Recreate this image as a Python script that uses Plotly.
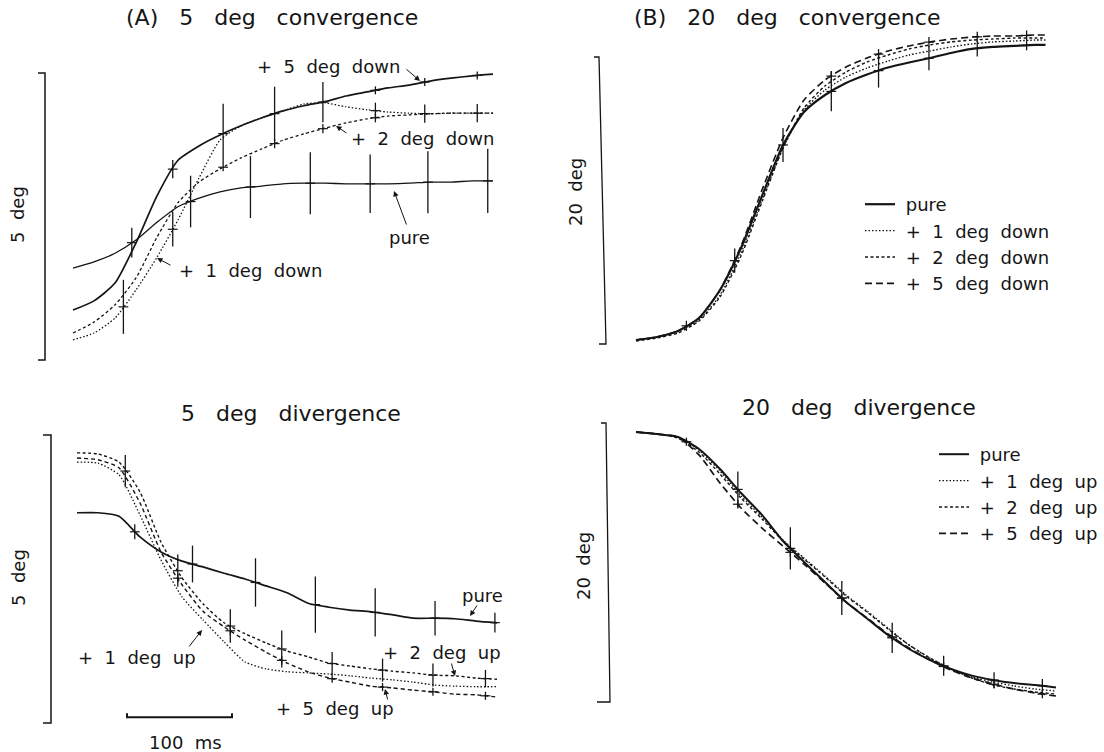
import numpy as np
import plotly.graph_objects as go

W, H = 1104, 752
FONT = "DejaVu Sans"
INK = "#151515"

# ---------------- data (time in ms, eye position in deg) ----------------
# (A) 5 deg convergence
T_A = [0, 20, 40, 60, 80, 100, 120, 140, 160, 180, 200, 220, 240, 260, 280, 300, 320, 340, 360, 380, 400]
A_PURE = [1.60, 1.71, 1.86, 2.09, 2.40, 2.67, 2.82, 2.93, 3.00, 3.03, 3.07, 3.08, 3.08, 3.07, 3.07, 3.07, 3.08, 3.10, 3.10, 3.12, 3.12]
A_DOWN1 = [0.35, 0.47, 0.73, 1.22, 1.79, 2.44, 3.17, 3.83, 4.08, 4.22, 4.34, 4.46, 4.48, 4.41, 4.36, 4.32, 4.30, 4.29, 4.30, 4.30, 4.30]
A_DOWN2 = [0.47, 0.66, 0.96, 1.43, 2.14, 2.74, 3.10, 3.33, 3.52, 3.68, 3.83, 3.94, 4.04, 4.13, 4.20, 4.25, 4.27, 4.29, 4.30, 4.30, 4.30]
A_DOWN5 = [0.87, 1.03, 1.34, 2.04, 2.86, 3.48, 3.73, 3.92, 4.08, 4.22, 4.34, 4.43, 4.50, 4.60, 4.67, 4.74, 4.79, 4.86, 4.91, 4.95, 4.98]
A_PURE_ET = [56, 112, 169, 226, 283, 338, 395]
A_PURE_EH = [0.26, 0.45, 0.54, 0.54, 0.51, 0.54, 0.56]
A_DOWN1_ET = [48, 95, 288, 335, 385]
A_DOWN1_EH = [0.47, 0.30, 0.14, 0.16, 0.16]
A_DOWN2_ET = [143, 192, 238, 288]
A_DOWN2_EH = [0.07, 0.08, 0.08, 0.08]
A_DOWN5_ET = [95, 143, 192, 238, 288, 335, 385]
A_DOWN5_EH = [0.16, 0.52, 0.47, 0.35, 0.07, 0.07, 0.07]

# (B) 20 deg convergence
T_B = [0, 20, 40, 60, 80, 100, 120, 140, 160, 180, 200, 220, 240, 260, 280, 300, 320, 340, 360, 380, 390]
B_PURE = [0.28, 0.49, 0.91, 1.81, 3.76, 6.69, 10.31, 13.87, 16.17, 17.35, 18.19, 18.78, 19.27, 19.62, 19.93, 20.28, 20.56, 20.70, 20.77, 20.84, 20.84]
B_DOWN1 = [0.28, 0.49, 0.91, 1.67, 3.41, 6.34, 10.03, 13.66, 16.31, 17.70, 18.61, 19.23, 19.72, 20.14, 20.42, 20.70, 20.91, 21.05, 21.11, 21.18, 21.18]
B_DOWN2 = [0.21, 0.42, 0.77, 1.60, 3.28, 6.13, 9.90, 13.66, 16.45, 17.98, 18.95, 19.65, 20.14, 20.56, 20.84, 21.05, 21.18, 21.25, 21.32, 21.32, 21.32]
B_DOWN5 = [0.28, 0.49, 0.91, 1.81, 3.76, 6.83, 10.73, 14.36, 17.00, 18.40, 19.30, 19.93, 20.42, 20.77, 21.05, 21.25, 21.39, 21.46, 21.46, 21.53, 21.53]
B_PURE_ET = [48, 94, 140, 186, 231, 279, 325, 372]
B_PURE_EH = [0.35, 0.84, 1.18, 1.39, 1.18, 0.84, 0.56, 0.35]
B_DOWN5_ET = [186, 231, 279, 325, 372]
B_DOWN5_EH = [0.35, 0.35, 0.35, 0.35, 0.35]

# 5 deg divergence
T_C = [0, 20, 40, 60, 80, 100, 120, 140, 160, 180, 200, 220, 240, 260, 280, 300, 320, 340, 360, 380, 400]
C_PURE = [3.65, 3.65, 3.59, 3.23, 2.97, 2.81, 2.71, 2.60, 2.50, 2.38, 2.26, 2.08, 2.01, 1.96, 1.93, 1.88, 1.82, 1.82, 1.81, 1.77, 1.74]
C_UP1 = [4.53, 4.51, 4.31, 3.61, 2.83, 2.19, 1.79, 1.41, 1.06, 0.94, 0.89, 0.87, 0.85, 0.82, 0.78, 0.75, 0.71, 0.66, 0.64, 0.63, 0.63]
C_UP2 = [4.69, 4.67, 4.53, 4.01, 3.14, 2.52, 2.07, 1.74, 1.55, 1.39, 1.25, 1.15, 1.04, 0.99, 0.94, 0.90, 0.87, 0.83, 0.82, 0.78, 0.76]
C_UP5 = [4.60, 4.57, 4.43, 3.82, 2.97, 2.40, 1.94, 1.67, 1.44, 1.23, 1.04, 0.89, 0.78, 0.71, 0.64, 0.61, 0.57, 0.54, 0.50, 0.49, 0.45]
C_PURE_ET = [55, 110, 170, 227, 284, 341, 398]
C_PURE_EH = [0.13, 0.32, 0.42, 0.49, 0.42, 0.30, 0.17]
C_UP2_ET = [46, 96, 146, 195, 243, 291, 339, 389]
C_UP2_EH = [0.28, 0.28, 0.29, 0.32, 0.20, 0.20, 0.20, 0.15]
C_UP5_ET = [96, 146, 195, 243, 291, 339, 389]
C_UP5_EH = [0.07, 0.07, 0.07, 0.07, 0.07, 0.07, 0.07]

# 20 deg divergence
T_D = [0, 20, 40, 60, 80, 100, 120, 140, 160, 180, 200, 220, 240, 260, 280, 300, 320, 340, 360, 380, 400]
D_PURE = [19.35, 19.21, 19.00, 18.14, 16.70, 14.98, 13.41, 11.54, 10.04, 8.60, 7.17, 5.99, 4.80, 3.80, 3.01, 2.37, 1.89, 1.58, 1.36, 1.22, 1.04]
D_UP1 = [19.35, 19.21, 19.00, 18.06, 16.56, 14.77, 13.26, 11.61, 10.32, 9.03, 7.67, 6.52, 5.30, 4.09, 3.15, 2.37, 1.79, 1.43, 1.15, 0.93, 0.79]
D_UP2 = [19.35, 19.21, 18.92, 17.92, 16.34, 14.62, 13.12, 11.54, 10.25, 8.96, 7.60, 6.45, 5.23, 4.09, 3.15, 2.37, 1.72, 1.22, 0.93, 0.72, 0.57]
D_UP5 = [19.35, 19.21, 19.00, 17.71, 15.70, 13.91, 12.47, 11.18, 9.89, 8.53, 7.17, 6.02, 4.87, 3.87, 3.01, 2.29, 1.72, 1.29, 0.93, 0.65, 0.43]
D_PURE_ET = [48, 97, 147, 196, 244, 293, 341, 387]
D_PURE_EH = [0.29, 1.29, 1.51, 1.22, 1.08, 0.72, 0.57, 0.50]
D_UP5_ET = [97, 147, 196, 244, 293, 341, 387]
D_UP5_EH = [0.30, 0.30, 0.30, 0.30, 0.30, 0.30, 0.30]

SCALE_DEG_SMALL = 5
SCALE_DEG_LARGE = 20
SCALE_MS = 100

# ---------------- geometry (pixel placement of each panel) ----------------
GEOM = {
    "A": dict(t0=73, ppm=1.05, d0=360, ppd=57.4, box=(20, 28, 525, 392)),
    "B": dict(t0=636, ppm=1.05, d0=344, ppd=14.35, box=(560, 25, 1075, 380)),
    "C": dict(t0=77, ppm=1.05, d0=723, ppd=57.6, box=(20, 425, 525, 750)),
    "D": dict(t0=636, ppm=1.05, d0=702, ppd=13.95, box=(560, 415, 1075, 745)),
}
AX = {"A": ("x", "y"), "B": ("x2", "y2"), "C": ("x3", "y3"), "D": ("x4", "y4")}


def px_t(panel, px):
    g = GEOM[panel]
    return (px - g["t0"]) / g["ppm"]


def P(px, py):
    return px / W, 1 - py / H


fig = go.Figure()


def lab(s, n=2):
    return s.replace(" ", "\u00a0" * (n - 1) + " ")


def curve(panel, t, d, dash="solid", width=1.4, name=None, legend=None):
    xa, ya = AX[panel]
    fig.add_trace(go.Scatter(
        x=t, y=d, mode="lines", xaxis=xa, yaxis=ya,
        line=dict(color=INK, width=width, dash=dash, shape="spline", smoothing=0.6),
        name=name, showlegend=legend is not None, legend=legend if legend else "legend",
        legendgroup=(panel + name) if name else None, hoverinfo="skip"))


def bars(panel, t, d, tb, half, thick=1.3):
    xa, ya = AX[panel]
    yb = np.interp(tb, t, d)
    fig.add_trace(go.Scatter(
        x=tb, y=yb, mode="markers", xaxis=xa, yaxis=ya, showlegend=False, hoverinfo="skip",
        marker=dict(symbol="line-ew", size=7, color=INK, line=dict(color=INK, width=1.2)),
        error_y=dict(type="data", array=half, symmetric=True, color=INK, thickness=thick, width=0)))


def poly(panel, t, d, width=1.5):
    xa, ya = AX[panel]
    fig.add_trace(go.Scatter(x=t, y=d, mode="lines", xaxis=xa, yaxis=ya, showlegend=False,
                             hoverinfo="skip", line=dict(color=INK, width=width)))


DOT = "1.5px,2px"
SDASH = "3px,2.5px"
LDASH = "7px,4px"
LEG = "\u00a0"

# Panel A
curve("A", T_A, A_PURE, "solid", 1.3)
curve("A", T_A, A_DOWN5, "solid", 1.7)
curve("A", T_A, A_DOWN2, SDASH, 1.3)
curve("A", T_A, A_DOWN1, DOT, 1.3)
bars("A", T_A, A_PURE, A_PURE_ET, A_PURE_EH)
bars("A", T_A, A_DOWN5, A_DOWN5_ET, A_DOWN5_EH)
bars("A", T_A, A_DOWN1, A_DOWN1_ET, A_DOWN1_EH)
bars("A", T_A, A_DOWN2, A_DOWN2_ET, A_DOWN2_EH)

# Panel B
curve("B", T_B, B_PURE, "solid", 2.2, LEG + "pure", "legend")
curve("B", T_B, B_DOWN1, DOT, 1.4, LEG + lab("+ 1 deg down"), "legend")
curve("B", T_B, B_DOWN2, SDASH, 1.4, LEG + lab("+ 2 deg down"), "legend")
curve("B", T_B, B_DOWN5, LDASH, 1.6, LEG + lab("+ 5 deg down"), "legend")
bars("B", T_B, B_PURE, B_PURE_ET, B_PURE_EH)
bars("B", T_B, B_DOWN5, B_DOWN5_ET, B_DOWN5_EH)

# Panel C
curve("C", T_C, C_PURE, "solid", 1.7)
curve("C", T_C, C_UP2, SDASH, 1.4)
curve("C", T_C, C_UP5, "4px,3px", 1.4)
curve("C", T_C, C_UP1, DOT, 1.3)
bars("C", T_C, C_PURE, C_PURE_ET, C_PURE_EH)
bars("C", T_C, C_UP2, C_UP2_ET, C_UP2_EH)
bars("C", T_C, C_UP5, C_UP5_ET, C_UP5_EH)

# Panel D
curve("D", T_D, D_PURE, "solid", 2.0, LEG + "pure", "legend2")
curve("D", T_D, D_UP1, DOT, 1.4, LEG + lab("+ 1 deg up"), "legend2")
curve("D", T_D, D_UP2, SDASH, 1.4, LEG + lab("+ 2 deg up"), "legend2")
curve("D", T_D, D_UP5, LDASH, 1.7, LEG + lab("+ 5 deg up"), "legend2")
bars("D", T_D, D_PURE, D_PURE_ET, D_PURE_EH)
bars("D", T_D, D_UP5, D_UP5_ET, D_UP5_EH)

# scale brackets (amplitude) and the time scale bar
poly("A", [px_t("A", 38), px_t("A", 45), px_t("A", 45), px_t("A", 38)], [0, 0, SCALE_DEG_SMALL, SCALE_DEG_SMALL])
poly("C", [px_t("C", 43), px_t("C", 51), px_t("C", 51), px_t("C", 43)], [0, 0, SCALE_DEG_SMALL, SCALE_DEG_SMALL])
poly("B", [px_t("B", 594), px_t("B", 599), px_t("B", 606), px_t("B", 599)], [SCALE_DEG_LARGE, SCALE_DEG_LARGE, 0, 0], 1.3)
poly("D", [px_t("D", 601), px_t("D", 606), px_t("D", 610), px_t("D", 597)], [SCALE_DEG_LARGE, SCALE_DEG_LARGE, 0, 0], 1.3)
sb0 = px_t("C", 127)
poly("C", [sb0, sb0, sb0 + SCALE_MS, sb0 + SCALE_MS], [0.17, 0.10, 0.10, 0.17], 2.0)

# ---------------- layout ----------------
layout = dict(width=W, height=H, margin=dict(l=0, r=0, t=0, b=0),
              paper_bgcolor="white", plot_bgcolor="white",
              font=dict(family=FONT, color=INK, size=18))
for i, (k, g) in enumerate(GEOM.items()):
    x0, y0, x1, y1 = g["box"]
    n = "" if i == 0 else str(i + 1)
    layout["xaxis" + n] = dict(domain=[x0 / W, x1 / W], range=[(x0 - g["t0"]) / g["ppm"], (x1 - g["t0"]) / g["ppm"]],
                               visible=False, anchor="y" + n, fixedrange=True)
    layout["yaxis" + n] = dict(domain=[1 - y1 / H, 1 - y0 / H], range=[(g["d0"] - y1) / g["ppd"], (g["d0"] - y0) / g["ppd"]],
                               visible=False, anchor="x" + n, fixedrange=True)

lx, ly = P(860, 186)
layout["legend"] = dict(x=lx, y=ly, xanchor="left", yanchor="top", bgcolor="rgba(0,0,0,0)",
                        font=dict(family=FONT, size=18, color=INK), traceorder="grouped",
                        tracegroupgap=0, itemwidth=30)
lx, ly = P(934, 436)
layout["legend2"] = dict(x=lx, y=ly, xanchor="left", yanchor="top", bgcolor="rgba(0,0,0,0)",
                         font=dict(family=FONT, size=18, color=INK), traceorder="grouped",
                         tracegroupgap=0, itemwidth=30)
fig.update_layout(**layout)

ann = []


def text(px, py, s, size=18, angle=0):
    x, y = P(px, py)
    ann.append(dict(x=x, y=y, xref="paper", yref="paper", text=s, showarrow=False, textangle=angle,
                    font=dict(family=FONT, size=size, color=INK), xanchor="center", yanchor="middle"))


def arrow(hx, hy, tx, ty):
    x, y = P(hx, hy)
    ann.append(dict(x=x, y=y, xref="paper", yref="paper", text="", showarrow=True,
                    ax=tx - hx, ay=ty - hy, axref="pixel", ayref="pixel",
                    arrowhead=2, arrowsize=1.1, arrowwidth=1, arrowcolor=INK))


# titles
text(272, 17, lab("(A) 5 deg convergence", 3), 22)
text(787, 17, lab("(B) 20 deg convergence", 3), 22)
text(291, 413, lab("5 deg divergence", 3), 22)
text(859, 407, lab("20 deg divergence", 3), 22)
# amplitude labels
text(18, 215, lab("5 deg"), 18, -90)
text(18, 578, lab("5 deg"), 18, -90)
text(576, 192, lab("20 deg"), 18, -90)
text(583, 566, lab("20 deg"), 18, -90)
text(185, 742, lab("100 ms"), 18)
# curve labels in A
text(328, 67, lab("+ 5 deg down"))
arrow(420, 81, 405, 68)
text(422, 138, lab("+ 2 deg down"))
arrow(336, 126, 348, 134)
text(409, 238, "pure")
arrow(394, 191, 407, 226)
text(250, 270, lab("+ 1 deg down"))
arrow(157, 258, 172, 266)
# curve labels in C
text(137, 657, lab("+ 1 deg up"))
arrow(202, 630, 188, 648)
text(442, 652, lab("+ 2 deg up"))
arrow(455, 676, 451, 662)
text(482, 595, "pure")
arrow(470, 616, 478, 604)
text(335, 708, lab("+ 5 deg up"))
arrow(385, 689, 388, 701)

fig.update_layout(annotations=ann)
fig.write_html("out.html")
